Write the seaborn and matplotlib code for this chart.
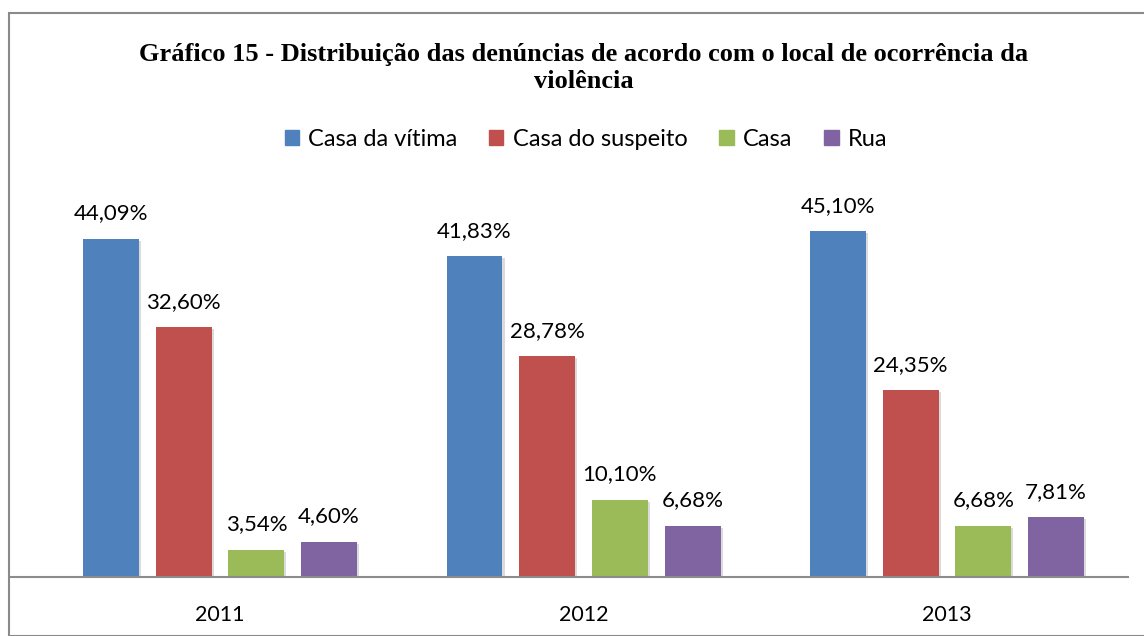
import numpy as np
import pandas as pd
import matplotlib
matplotlib.use('Agg')
import matplotlib.pyplot as plt
import matplotlib.patheffects as pe
from matplotlib.patches import Rectangle
import seaborn as sns

# data
anos = ['2011', '2012', '2013']
locais = ['Casa da vítima', 'Casa do suspeito', 'Casa', 'Rua']
casa_vitima = [44.09, 41.83, 45.10]
casa_suspeito = [32.60, 28.78, 24.35]
casa = [3.54, 10.10, 6.68]
rua = [4.60, 6.68, 7.81]
cores = ['#4F81BD', '#C0504D', '#9BBB59', '#8064A2']

df = pd.DataFrame({
    'ano': anos * 4,
    'local': np.repeat(locais, 3),
    'valor': casa_vitima + casa_suspeito + casa + rua,
})

sns.set_theme(style='white')
plt.rcParams['font.family'] = ['Lato', 'DejaVu Sans']
plt.rcParams['text.color'] = 'black'

W, H = 1144, 636
fig = plt.figure(figsize=(W / 100, H / 100), dpi=100)
ax = fig.add_axes([10 / W, (H - 577) / H, (1128 - 10) / W, (577 - 193.5) / H])

sns.barplot(data=df, x='ano', y='valor', hue='local', hue_order=locais,
            palette=cores, width=0.8, gap=0.23, ax=ax, legend=False,
            saturation=1, linewidth=0)

sombra = [pe.SimplePatchShadow(offset=(1.5, -1.5), shadow_rgbFace='#999999', alpha=0.35),
          pe.Normal()]
for cont in ax.containers:
    for p in cont:
        p.set_path_effects(sombra)
    ax.bar_label(cont, labels=[f'{v:.2f}%'.replace('.', ',') for v in cont.datavalues],
                 padding=11, fontsize=16, color='black')

ax.set_ylim(0, 50)
ax.set_xlim(-0.578, 2.498)
ax.set_xlabel('')
ax.set_ylabel('')
ax.set_yticks([])
ax.tick_params(axis='x', length=0, labelsize=15.5, pad=20, colors='black')
for s in ['top', 'right', 'left']:
    ax.spines[s].set_visible(False)
ax.spines['bottom'].set_color('#8C8C8C')
ax.spines['bottom'].set_linewidth(1.5)

# legend
handles = [Rectangle((0, 0), 1, 1, color=c) for c in cores]
fig.legend(handles, locais, loc='center', bbox_to_anchor=(586 / W, 1 - 139 / H),
           ncol=4, frameon=False, fontsize=17, handlelength=0.6, handleheight=0.6,
           handletextpad=0.4, columnspacing=1.35, labelcolor='black')

fig.text(584 / W, 1 - 68 / H,
         'Gráfico 15 - Distribuição das denúncias de acordo com o local de ocorrência da\nviolência',
         ha='center', va='center', fontsize=19, fontweight='bold', color='black',
         family=['Liberation Serif', 'DejaVu Serif'], linespacing=1.2)

# outer border of the chart area
fig.patches.append(Rectangle((9 / W, 0), 1.2, 1 - 13 / H, transform=fig.transFigure,
                             fill=False, edgecolor='#8A8A8A', linewidth=1.5))

fig.savefig('out.png', dpi=100)
